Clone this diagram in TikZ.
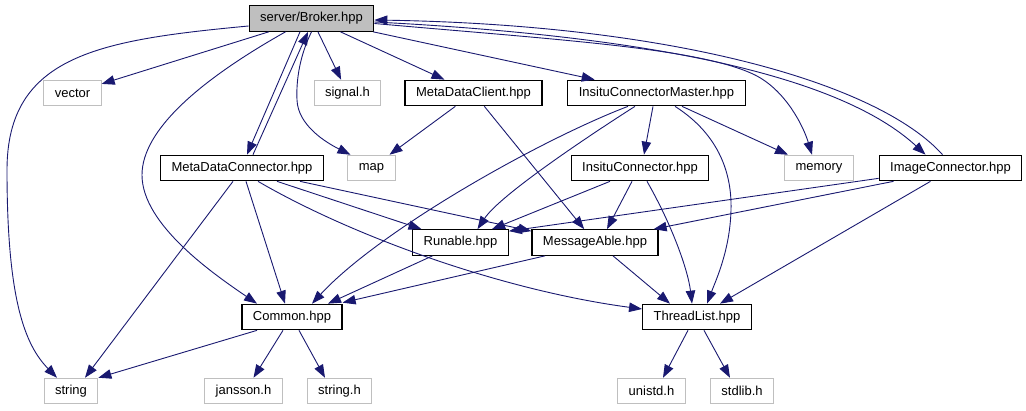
\documentclass[tikz,border=0pt]{standalone}
\usepackage{fontspec}
\setmainfont{Liberation Sans}
\usetikzlibrary{arrows.meta}
\definecolor{doxblue}{RGB}{25, 25, 112}
\definecolor{doxgray}{RGB}{191, 191, 191}

\begin{document}
\begin{tikzpicture}[
    x=1pt, y=-1pt,
    hdr/.style={rectangle, draw=black, line width=1.2pt, minimum height=25.5pt, inner xsep=11pt, inner ysep=0pt, font=\fontsize{13}{15}\selectfont},
    syshdr/.style={hdr, draw=doxgray, line width=1pt},
    mainhdr/.style={hdr, fill=doxgray},
    inc/.style={-{Triangle[length=13pt, width=9.5pt]}, draw=doxblue, line width=0.9pt}
]
\useasboundingbox (0,0) rectangle (1026,411);

% Top — the file itself
\node[mainhdr] (brk) at (311.5,18.5) {server/Broker.hpp};

% Row 1
\node[syshdr] (vec) at (72.5,93) {vector};
\node[syshdr] (sig) at (347.5,93) {signal.h};
\node[hdr] (mdcl) at (473.5,93) {MetaDataClient.hpp};
\node[hdr] (icm) at (656.5,93) {InsituConnectorMaster.hpp};

% Row 2
\node[hdr] (mdc) at (242,168) {MetaDataConnector.hpp};
\node[syshdr] (map) at (371.5,168) {map};
\node[hdr] (ic) at (640,168) {InsituConnector.hpp};
\node[syshdr] (mem) at (819,168) {memory};
\node[hdr] (img) at (950.5,168) {ImageConnector.hpp};

% Row 3
\node[hdr] (run) at (460.5,242.5) {Runable.hpp};
\node[hdr] (msg) at (595,242.5) {MessageAble.hpp};

% Row 4
\node[hdr] (com) at (292,317) {Common.hpp};
\node[hdr] (tl) at (697,317) {ThreadList.hpp};

% Bottom — system headers
\node[syshdr] (str) at (71,391) {string};
\node[syshdr] (jan) at (243.5,391) {jansson.h};
\node[syshdr] (strh) at (339.5,391) {string.h};
\node[syshdr] (uni) at (651.5,391) {unistd.h};
\node[syshdr] (stdl) at (742,391) {stdlib.h};

% Broker includes
\draw[inc] ([yshift=-7.5pt]brk.west) .. controls (100,40) and (7,55) .. (7,170) .. controls (7,300) and (25,345) .. ([xshift=-14pt]str.north);
\draw[inc] (brk) -- (vec);
\draw[inc] ([xshift=-26pt]brk.south) .. controls (200,80) and (142,130) .. (142,175) .. controls (142,225) and (215,275) .. ([xshift=-35pt]com.north);
\draw[inc] ([xshift=-11.5pt]brk.south) -- ([xshift=5pt]mdc.north);
\draw[inc] ([xshift=11pt]mdc.north) -- ([xshift=-3.5pt]brk.south);
\draw[inc] (brk.south) .. controls (300,55) and (296,80) .. (297,100) .. controls (298,125) and (325,142) .. ([xshift=-21pt]map.north);
\draw[inc] (brk) -- (sig);
\draw[inc] (brk) -- (mdcl);
\draw[inc] (brk) -- (icm);
\draw[inc] ([yshift=-5pt]brk.east) .. controls (560,40) and (700,48) .. (755,75) .. controls (785,90) and (803,125) .. ([xshift=-7pt]mem.north);
\draw[inc] ([yshift=-3.5pt]brk.east) .. controls (690,38) and (850,85) .. ([xshift=-25pt]img.north);
\draw[inc] ([xshift=-8pt]img.north) .. controls (880,85) and (680,25) .. ([yshift=-1.5pt]brk.east);

% MetaDataClient
\draw[inc] (mdcl) -- (map);
\draw[inc] (mdcl) -- (msg);

% InsituConnectorMaster
\draw[inc] ([xshift=-28.5pt]icm.south) .. controls (540,140) and (380,230) .. ([xshift=20pt]com.north);
\draw[inc] ([xshift=-21.5pt]icm.south) .. controls (590,135) and (500,195) .. ([xshift=17pt]run.north);
\draw[inc] ([xshift=-3.5pt]icm.south) -- ([xshift=4pt]ic.north);
\draw[inc] ([xshift=18.5pt]icm.south) .. controls (720,135) and (732,175) .. (731,210) .. controls (730,250) and (716,280) .. ([xshift=10pt]tl.north);
\draw[inc] ([xshift=25.5pt]icm.south) -- ([xshift=-31pt]mem.north);

% MetaDataConnector
\draw[inc] ([xshift=-9pt]mdc.south) -- ([xshift=14pt]str.north);
\draw[inc] ([xshift=4pt]mdc.south) -- ([xshift=-7pt]com.north);
\draw[inc] ([xshift=16pt]mdc.south) .. controls (350,235) and (500,290) .. ([yshift=8pt]tl.west);
\draw[inc] ([xshift=35pt]mdc.south) -- ([xshift=-39pt]run.north);
\draw[inc] ([xshift=58pt]mdc.south) -- ([yshift=-2pt]msg.north west);

% InsituConnector
\draw[inc] ([xshift=-30pt]ic.south) -- ([xshift=31.5pt]run.north);
\draw[inc] ([xshift=-8pt]ic.south) -- ([xshift=12pt]msg.north);
\draw[inc] ([xshift=7pt]ic.south) .. controls (672,225) and (688,270) .. ([xshift=-5pt]tl.north);

% ImageConnector
\draw[inc] ([yshift=3pt]img.south west) -- ([yshift=-2pt]run.north east);
\draw[inc] ([xshift=-57pt]img.south) -- ([xshift=-5pt]msg.north east);
\draw[inc] ([xshift=-20pt]img.south) -- ([xshift=23pt]tl.north);

% Runable, MessageAble
\draw[inc] ([xshift=-28pt]run.south) -- ([xshift=36pt]com.north);
\draw[inc] ([xshift=-50pt]msg.south) -- ([yshift=1pt]com.north east);
\draw[inc] ([xshift=18pt]msg.south) -- ([xshift=-27pt]tl.north);

% Common, ThreadList
\draw[inc] ([xshift=-35pt]com.south) -- (str.north east);
\draw[inc] ([xshift=-9pt]com.south) -- ([xshift=10pt]jan.north);
\draw[inc] ([xshift=7pt]com.south) -- ([xshift=-14.5pt]strh.north);
\draw[inc] ([xshift=-9pt]tl.south) -- ([xshift=11.5pt]uni.north);
\draw[inc] ([xshift=7pt]tl.south) -- ([xshift=-12pt]stdl.north);

\end{tikzpicture}
\end{document}
